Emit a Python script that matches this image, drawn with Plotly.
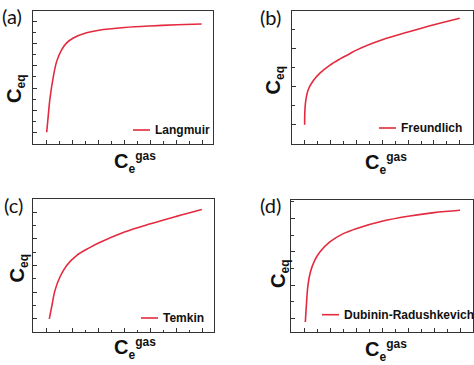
import plotly.graph_objects as go

# ---- data (arbitrary units) ----
lang_x = [0, 0.062, 0.128, 0.257, 0.386, 0.58, 0.77, 1.03, 1.54, 2.02, 3.01, 4.0, 5.02, 5.98]
lang_y = [0.02, 0.79, 1.55, 2.52, 3.2, 3.73, 4.03, 4.25, 4.48, 4.6, 4.72, 4.79, 4.84, 4.88]

freu_x = [0, 0.005, 0.04, 0.14, 0.33, 0.59, 0.98, 1.37, 1.73, 2.0, 3.0, 4.0, 5.0, 6.0]
freu_y = [0, 0.31, 0.62, 0.92, 1.15, 1.35, 1.56, 1.72, 1.85, 1.95, 2.22, 2.42, 2.61, 2.78]

temk_x = [0.10, 0.19, 0.32, 0.51, 0.77, 1.16, 1.64, 2.0, 3.0, 4.0, 5.0, 5.98]
temk_y = [0.0, 0.45, 1.07, 1.57, 2.0, 2.38, 2.66, 2.84, 3.25, 3.56, 3.84, 4.1]

dubi_x = [0.05, 0.09, 0.15, 0.245, 0.41, 0.61, 0.99, 1.51, 2.0, 3.0, 4.0, 5.0, 6.0]
dubi_y = [-0.1, 0.4, 1.0, 1.4, 1.75, 2.0, 2.3, 2.55, 2.7, 2.92, 3.07, 3.18, 3.25]

names = ["Langmuir", "Freundlich", "Temkin", "Dubinin-Radushkevich"]
panel_labels = ["(a)", "(b)", "(c)", "(d)"]
x_title = "<b>C<sub><span style='font-size:12px'>e</span></sub><sup><span style='font-size:12px'>gas</span></sup></b>"
y_title = "<b>C<sub><span style='font-size:12px'>eq</span></sub></b>"

W, H = 474, 365
RED = "#e42a3f"
AX = "#333333"

def px_x(p):
    return p / W

def px_y(p):
    return 1 - p / H

# panel boxes in pixels: left, right, top, bottom
boxes = [(33.3, 213.3, 11, 144), (292, 472.7, 11, 144),
         (33.3, 214, 199, 332.3), (291.3, 473, 200.3, 332)]
xranges = [(-0.517, 6.43), (-0.49, 6.5), (-0.517, 6.45), (-0.49, 6.5)]
yranges = [(-0.507, 5.46), (-0.50, 2.97), (-0.5, 4.49), (-0.4, 3.55)]

series = [(lang_x, lang_y), (freu_x, freu_y), (temk_x, temk_y), (dubi_x, dubi_y)]
# legend text start (px) and vertical centre (px)
legend_pos = [(153, 130), (399, 128), (161, 318), (342, 314.7)]
ytitle_pos = [(15, 89), (274.5, 81), (18, 268.5), (279.5, 274.5)]
xtitle_pos = [(135, 162.5), (386, 163.5), (135, 348), (386, 350)]
label_pos = [(0, 2), (258, 3), (2, 191), (258, 191)]

fig = go.Figure()
layout = dict(width=W, height=H, margin=dict(l=0, r=0, t=0, b=0), showlegend=False,
              paper_bgcolor="white", plot_bgcolor="white", annotations=[], shapes=[])

for i in range(4):
    sfx = "" if i == 0 else str(i + 1)
    xs, ys = series[i]
    fig.add_trace(go.Scatter(x=xs, y=ys, mode="lines", name=names[i],
                             line=dict(color=RED, width=1.6, shape="spline", smoothing=1.0),
                             xaxis="x" + sfx, yaxis="y" + sfx))
    l, r, t, b = boxes[i]
    axcommon = dict(showgrid=False, zeroline=False, showline=True, linecolor=AX, linewidth=1.3,
                    mirror=True, ticks="inside", ticklen=4, tickwidth=1, tickcolor=AX,
                    showticklabels=False, dtick=1, automargin=False,
                    minor=dict(ticks="inside", ticklen=2.5, dtick=0.5, tickcolor=AX, tickwidth=1))
    layout["xaxis" + sfx] = dict(axcommon, domain=[px_x(l), px_x(r)], range=list(xranges[i]),
                                 tick0=0, anchor="y" + sfx)
    layout["yaxis" + sfx] = dict(axcommon, domain=[px_y(b), px_y(t)], range=list(yranges[i]),
                                 tick0=0, anchor="x" + sfx)
    tfont = dict(family="Liberation Sans", size=20, color="#111")
    tx, ty = xtitle_pos[i]
    layout["annotations"].append(dict(text=x_title, xref="paper", yref="paper",
                                      x=px_x(tx), y=px_y(ty), xanchor="center", yanchor="middle",
                                      showarrow=False, font=tfont))
    tx, ty = ytitle_pos[i]
    layout["annotations"].append(dict(text=y_title, xref="paper", yref="paper", textangle=-90,
                                      x=px_x(tx), y=px_y(ty), xanchor="center", yanchor="middle",
                                      showarrow=False, font=tfont))
    # legend entry: sample line + label
    lx, ly = legend_pos[i]
    layout["shapes"].append(dict(type="line", xref="paper", yref="paper",
                                 x0=px_x(lx - 20), x1=px_x(lx - 3), y0=px_y(ly), y1=px_y(ly),
                                 line=dict(color=RED, width=1.6)))
    layout["annotations"].append(dict(text="<b>" + names[i] + "</b>", xref="paper", yref="paper",
                                      x=px_x(lx), y=px_y(ly), xanchor="left", yanchor="middle",
                                      showarrow=False,
                                      font=dict(family="Liberation Sans", size=12, color="#111")))
    px0, py0 = label_pos[i]
    layout["annotations"].append(dict(text=panel_labels[i], xref="paper", yref="paper",
                                      x=px_x(px0), y=px_y(py0),
                                      xanchor="left", yanchor="top", showarrow=False,
                                      font=dict(family="Lato", size=20, color="#111")))

fig.update_layout(**layout)
fig.write_html("out.html", config={"displayModeBar": False},
               post_script="document.body.style.margin='0';")
